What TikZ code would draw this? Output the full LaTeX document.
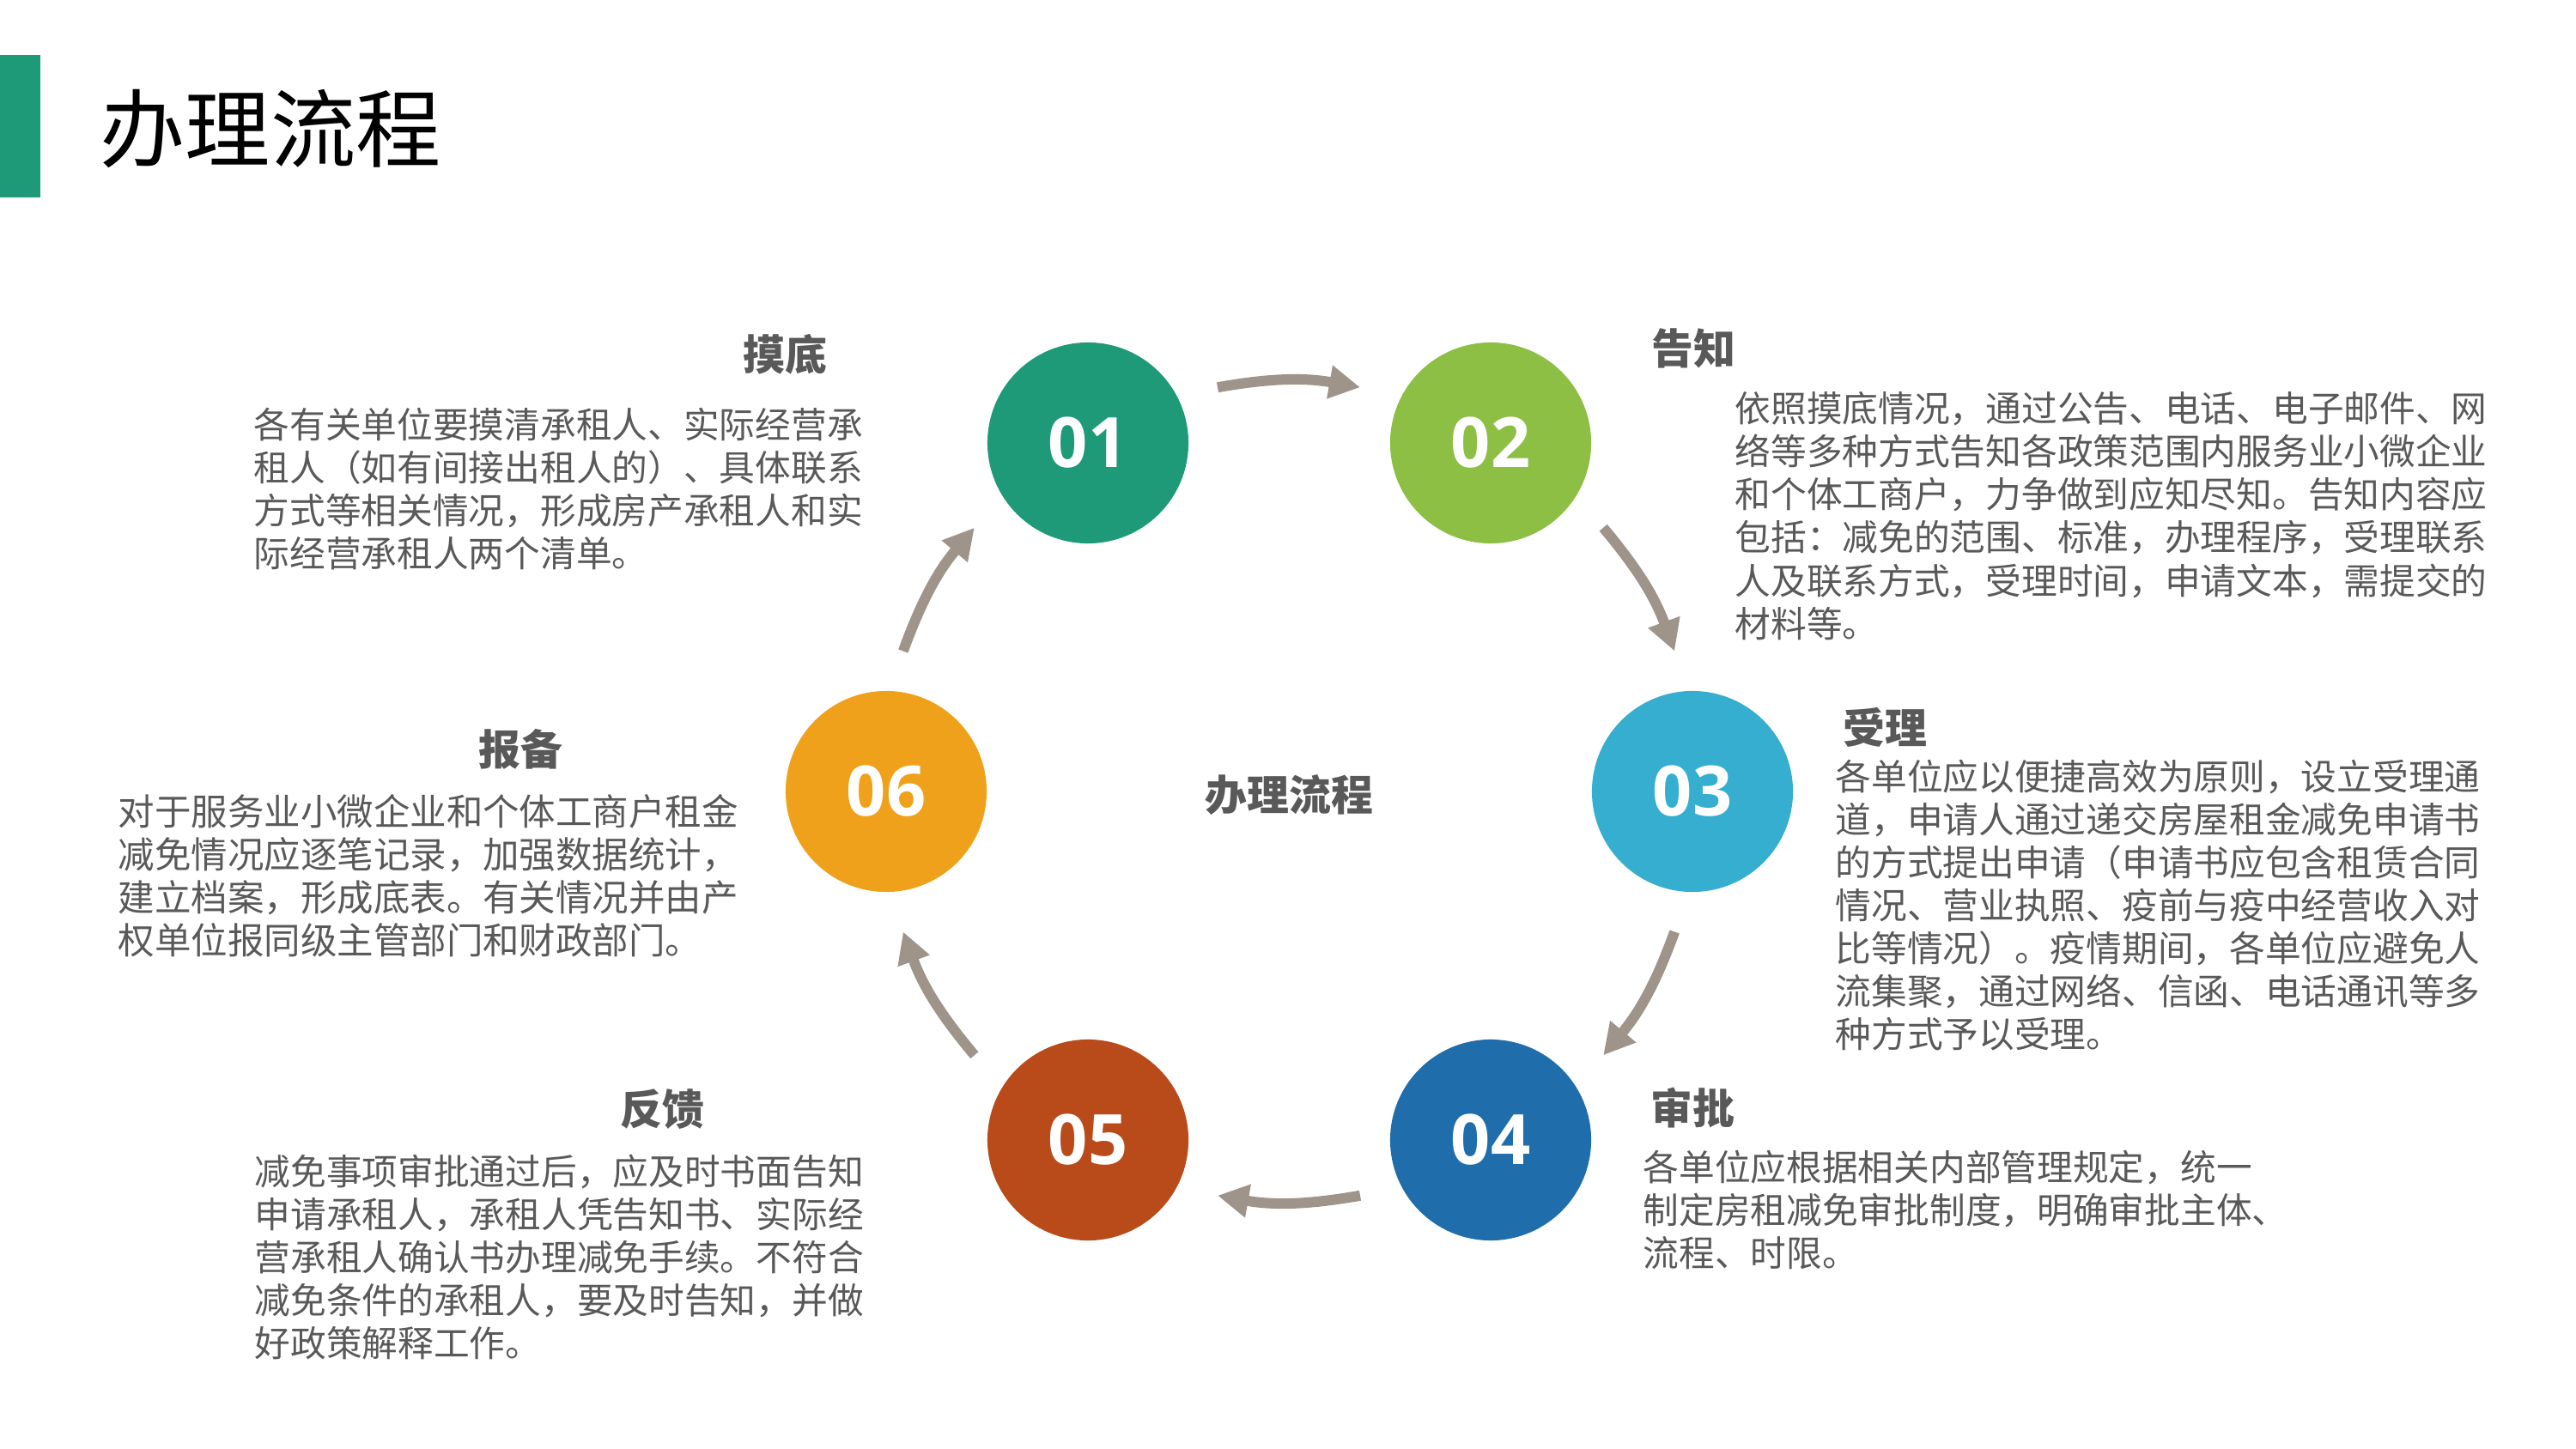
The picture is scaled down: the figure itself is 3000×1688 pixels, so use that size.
\documentclass[tikz,border=0pt]{standalone}
\usepackage{fontspec}
\newfontfamily\cjk{Noto Sans CJK SC}
\newfontfamily\numfont{Open Sans}
\usetikzlibrary{arrows.meta}
\definecolor{stepA}{HTML}{1E9A78}
\definecolor{stepB}{HTML}{8CBF43}
\definecolor{stepC}{HTML}{35AECF}
\definecolor{stepD}{HTML}{1F6EAB}
\definecolor{stepE}{HTML}{B84B19}
\definecolor{stepF}{HTML}{F0A11B}
\definecolor{arrowgray}{HTML}{9E948A}
\definecolor{textgray}{HTML}{595959}
\begin{document}
\begin{tikzpicture}[x=0.01cm,y=-0.01cm,
        num/.style={circle,minimum size=2.34cm,inner sep=0pt,text=white,
            font=\numfont\bfseries\fontsize{23}{28}\selectfont},
        head/.style={anchor=west,inner sep=0pt,text=textgray,
            font=\cjk\bfseries\fontsize{13.9}{16}\selectfont},
        body/.style={anchor=north west,inner sep=0pt,align=left,text=textgray,
            font=\cjk\fontsize{11.86}{14.23}\selectfont},
        flow/.style={draw=arrowgray,line width=0.12cm,
            -{Triangle[width=0.37cm,length=0.36cm]}}]
    \useasboundingbox (0,0) rectangle (3000,1688);
    % title
    \fill[stepA] (0,64) rectangle (47,230);
    \node[anchor=west,inner sep=0pt,font=\cjk\fontsize{28.2}{34}\selectfont] (title) at (116,150) {办理流程};
    \node[head] (mid) at (1403,926) {办理流程};
    % six steps round the middle
    \foreach \i/\x/\y/\c in {01/1267/516/stepA,02/1736/516/stepB,03/1971/922/stepC,
        04/1736/1328/stepD,05/1267/1328/stepE,06/1032/922/stepF}
    {
        \node[num,fill=\c] (n\i) at (\x,\y) {\i};
    };
    % arrows, clockwise
    \foreach \a [count=\k] in {90,30,-30,-90,-150,150} {
        \coordinate (s\k) at ({1501+478*cos(\a+10)},{922-478*sin(\a+10)});
        \coordinate (e\k) at ({1501+478*cos(\a-10)},{922-478*sin(\a-10)});
        \draw[flow] (s\k) to[bend left=10] (e\k);
    }
    % headings
    \node[head] (h01) at (865,413) {摸底};
    \node[head] (h02) at (1923,406) {告知};
    \node[head] (h03) at (2146,847) {受理};
    \node[head] (h04) at (1922,1291) {审批};
    \node[head] (h05) at (722,1292) {反馈};
    \node[head] (h06) at (557,873) {报备};
    % texts
    \node[body] (t01) at (295,474) {各有关单位要摸清承租人、实际经营承\\%
        租人（如有间接出租人的）、具体联系\\%
        方式等相关情况，形成房产承租人和实\\%
        际经营承租人两个清单。};
    \node[body] (t02) at (2020,456) {依照摸底情况，通过公告、电话、电子邮件、网\\%
        络等多种方式告知各政策范围内服务业小微企业\\%
        和个体工商户，力争做到应知尽知。告知内容应\\%
        包括：减免的范围、标准，办理程序，受理联系\\%
        人及联系方式，受理时间，申请文本，需提交的\\%
        材料等。};
    \node[body] (t03) at (2137,884) {各单位应以便捷高效为原则，设立受理通\\%
        道，申请人通过递交房屋租金减免申请书\\%
        的方式提出申请（申请书应包含租赁合同\\%
        情况、营业执照、疫前与疫中经营收入对\\%
        比等情况）。疫情期间，各单位应避免人\\%
        流集聚，通过网络、信函、电话通讯等多\\%
        种方式予以受理。};
    \node[body] (t04) at (1913,1339) {各单位应根据相关内部管理规定，统一\\%
        制定房租减免审批制度，明确审批主体、\\%
        流程、时限。};
    \node[body] (t05) at (296,1344) {减免事项审批通过后，应及时书面告知\\%
        申请承租人，承租人凭告知书、实际经\\%
        营承租人确认书办理减免手续。不符合\\%
        减免条件的承租人，要及时告知，并做\\%
        好政策解释工作。};
    \node[body,font=\cjk\fontsize{12.08}{14.23}\selectfont] (t06) at (137,925) {对于服务业小微企业和个体工商户租金\\%
        减免情况应逐笔记录，加强数据统计，\\%
        建立档案，形成底表。有关情况并由产\\%
        权单位报同级主管部门和财政部门。};
\end{tikzpicture}
\end{document}
